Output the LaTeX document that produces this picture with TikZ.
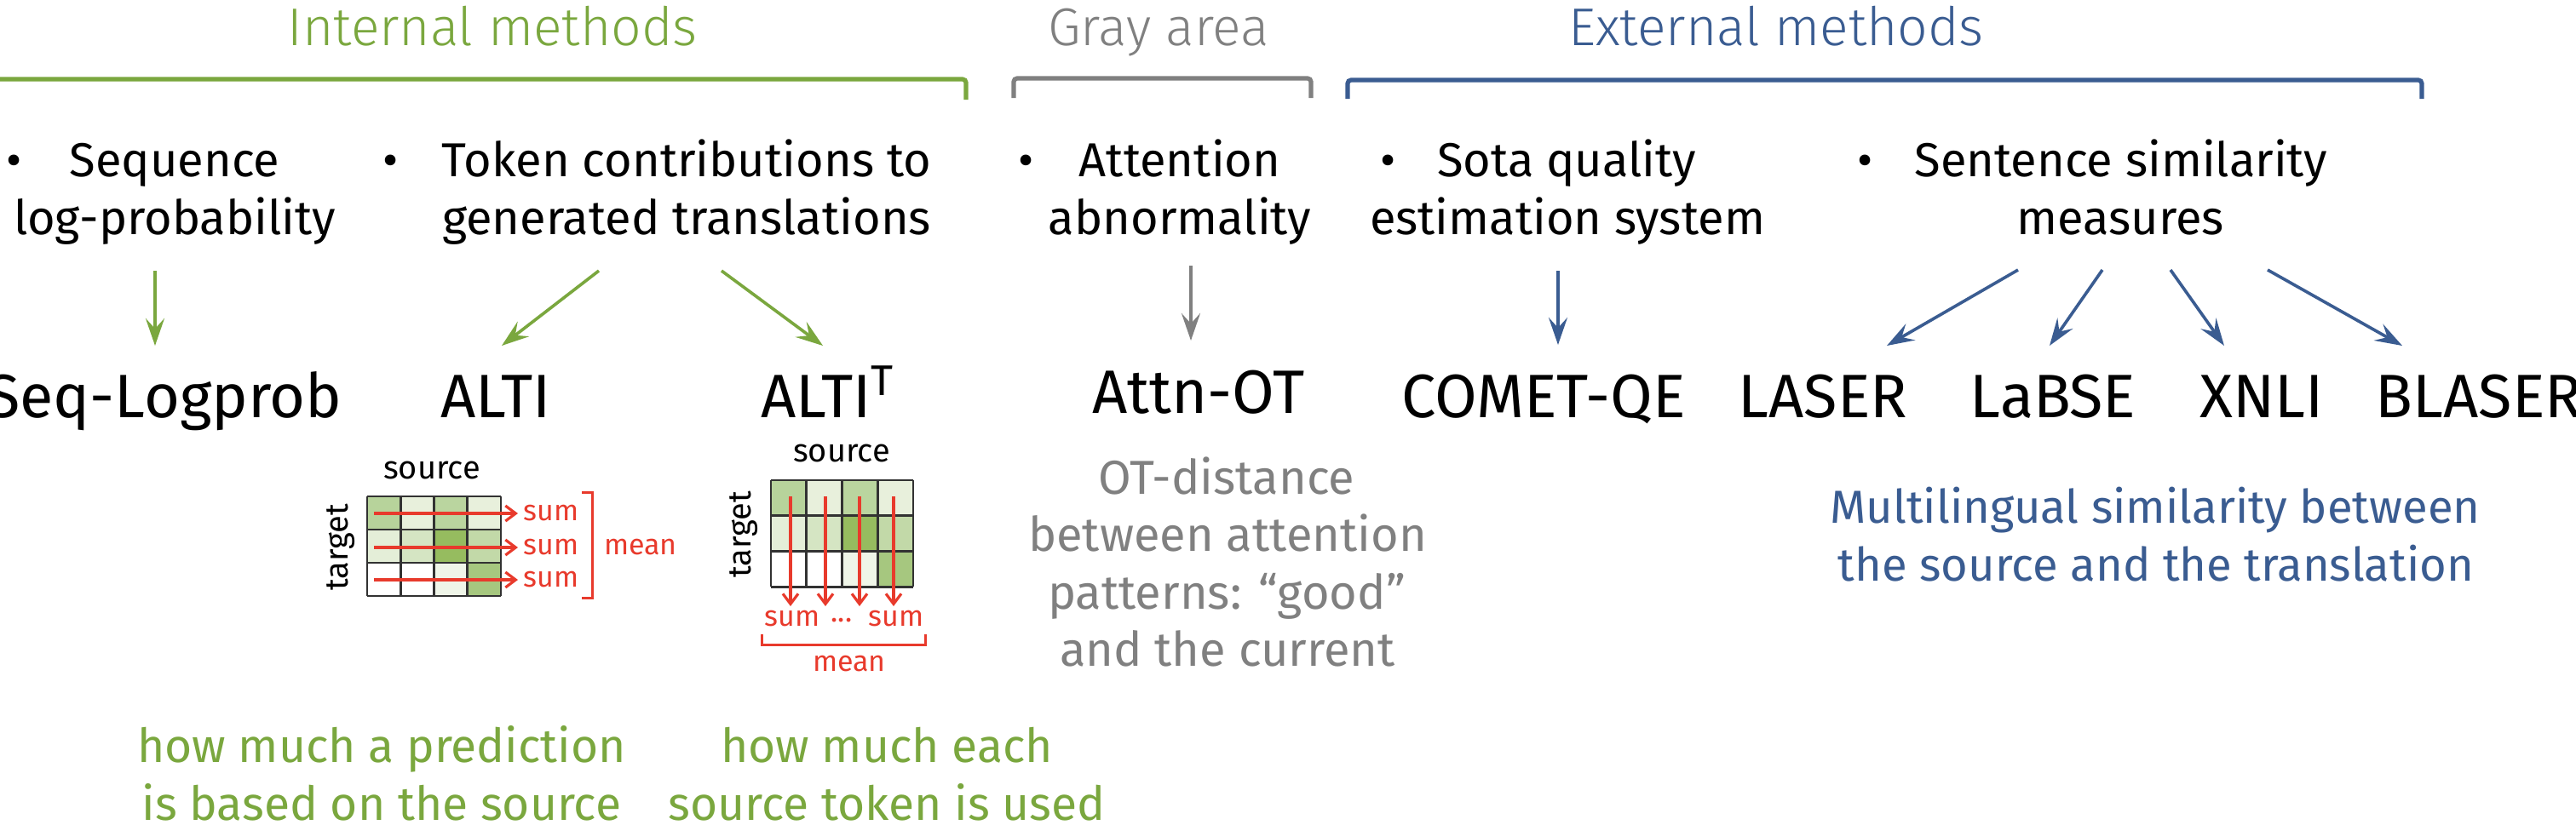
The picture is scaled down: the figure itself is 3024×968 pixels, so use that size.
\documentclass[tikz,border=0pt]{standalone}
\usepackage{fontspec}
\setmainfont{Fira Sans}
\newfontfamily\lightfont{Fira Sans Light}
\usetikzlibrary{arrows.meta}
\definecolor{igreen}{RGB}{122,167,62}
\definecolor{eblue}{RGB}{58,92,145}
\definecolor{ggray}{RGB}{128,128,128}
\definecolor{sred}{RGB}{232,58,44}
\definecolor{gridline}{RGB}{50,50,50}
\begin{document}
\begin{tikzpicture}[x=0.25pt,y=-0.25pt,
  every node/.style={inner sep=0pt, outer sep=0pt, anchor=base},
  head/.style={font=\lightfont\fontsize{15.6}{18}\selectfont},
  item/.style={font=\fontsize{14}{16}\selectfont},
  meth/.style={font=\fontsize{18}{20}\selectfont},
  grayn/.style={font=\fontsize{14}{16}\selectfont, text=ggray},
  bluen/.style={font=\fontsize{13.6}{16}\selectfont, text=eblue},
  greenn/.style={font=\fontsize{13.8}{16}\selectfont, text=igreen},
  small/.style={font=\fontsize{9.5}{11}\selectfont, anchor=center},
  redsmall/.style={font=\fontsize{8.5}{10}\selectfont, text=sred, anchor=center},
  brk/.style={line width=1.3pt, rounded corners=1pt},
  arr/.style={line width=0.9pt, -{Stealth[length=8pt,width=5.5pt,inset=3pt]}},
  sarr/.style={line width=0.8pt, draw=sred, -{Straight Barb[length=3pt,width=4.5pt]}},
  gridc/.style={draw=gridline, line width=0.7pt}
]
\useasboundingbox (0,0) rectangle (3024,968);

% headers
\node[head, text=igreen] (hint) at (578,53) {Internal methods};
\node[head, text=ggray] (hgray) at (1360,53) {Gray area};
\node[head, text=eblue] (hext) at (2085,53) {External methods};

% brackets
\draw[brk, draw=igreen] (-5,93) -- (1134,93) -- (1134,117);
\draw[brk, draw=ggray] (1190,115) -- (1190,92) -- (1539,92) -- (1539,115);
\draw[brk, draw=eblue] (1582,116) -- (1582,94) -- (2843,94) -- (2843,116);

% bullet items
\node[item] (b1) at (17,207) {•};
\node[item] (i1a) at (205,207) {Sequence};
\node[item] (i1b) at (205,275) {log-probability};
\node[item] (b2) at (459,207) {•};
\node[item] (i2a) at (806,207) {Token contributions to};
\node[item] (i2b) at (806,275) {generated translations};
\node[item] (b3) at (1205,207) {•};
\node[item] (i3a) at (1385,207) {Attention};
\node[item] (i3b) at (1385,275) {abnormality};
\node[item] (b4) at (1630,207) {•};
\node[item] (i4a) at (1839,207) {Sota quality};
\node[item] (i4b) at (1840,275) {estimation system};
\node[item] (b5) at (2190,207) {•};
\node[item] (i5a) at (2490,207) {Sentence similarity};
\node[item] (i5b) at (2489,275) {measures};

% method names
\node[meth] (seq) at (193,490) {Seq-Logprob};
\node[meth] (alti) at (582,490) {ALTI};
\node[meth] (altit) at (972,490) {ALTI\textsuperscript{T}};
\node[meth] (attn) at (1407,485) {Attn-OT};
\node[meth] (comet) at (1812,490) {COMET-QE};
\node[meth] (laser) at (2140,490) {LASER};
\node[meth] (labse) at (2410,490) {LaBSE};
\node[meth] (xnli) at (2655,490) {XNLI};
\node[meth] (blaser) at (2910,490) {BLASER};

% arrow coordinates
\coordinate (s1) at (182,318); \coordinate (e1) at (182,406);
\coordinate (s2) at (703,318); \coordinate (e2) at (589,406);
\coordinate (s3) at (847,318); \coordinate (e3) at (966,406);
\coordinate (s4) at (1398,312); \coordinate (e4) at (1398,400);
\coordinate (s5) at (1829,318); \coordinate (e5) at (1829,405);
\coordinate (s6) at (2369,317); \coordinate (e6) at (2215,406);
\coordinate (s7) at (2468,317); \coordinate (e7) at (2406,406);
\coordinate (s8) at (2548,317); \coordinate (e8) at (2611,406);
\coordinate (s9) at (2662,317); \coordinate (e9) at (2820,406);
\draw[arr, draw=igreen] (s1) -- (e1);
\draw[arr, draw=igreen] (s2) -- (e2);
\draw[arr, draw=igreen] (s3) -- (e3);
\draw[arr, draw=ggray] (s4) -- (e4);
\draw[arr, draw=eblue] (s5) -- (e5);
\draw[arr, draw=eblue] (s6) -- (e6);
\draw[arr, draw=eblue] (s7) -- (e7);
\draw[arr, draw=eblue] (s8) -- (e8);
\draw[arr, draw=eblue] (s9) -- (e9);

% cell colours (row-wise)
\def\cellcols{{"B7D39B","E8F0DC","BAD59F","E8F0DC","E4EED8","D5E5C3","96BC5F","C2D9A8","FFFFFF","FFFFFF","EFF5E8","A6C77F"}}

% grids
\foreach \r in {0,1,2}{
  \foreach \c in {0,1,2,3}{
    \pgfmathsetmacro{\idx}{int(\r*4+\c)}
    \pgfmathparse{\cellcols[\idx]}
    \definecolor{cc}{HTML}{\pgfmathresult}
    \fill[cc] (431+\c*39.25,583+\r*39) rectangle ++(39.25,39);
    \fill[cc] (905+\c*41.75,564+\r*41.7) rectangle ++(41.75,41.7);
  }
}
\foreach \c in {0,...,4}{
  \draw[gridc] (431+\c*39.25,583) -- (431+\c*39.25,700);
  \draw[gridc] (905+\c*41.75,564) -- (905+\c*41.75,689);
}
\foreach \r in {0,...,3}{
  \draw[gridc] (431,583+\r*39) -- (588,583+\r*39);
  \draw[gridc] (905,564+\r*41.7) -- (1072,564+\r*41.7);
}
\node[small] (srcA) at (507,552) {source};
\node[small, rotate=90] (tgtA) at (400,643) {target};
\node[small] (srcB) at (988,532) {source};
\node[small, rotate=90] (tgtB) at (873,628) {target};

% ALTI row sums
\foreach \y/\n in {603/1,643/2,681/3}{
  \coordinate (ra\n) at (439,\y);
  \coordinate (rb\n) at (608,\y);
  \draw[sarr] (ra\n) -- (rb\n);
  \node[redsmall] (sumA\n) at (647,\y) {sum};
}
\draw[draw=sred, line width=0.75pt] (683,578) -- (695,578) -- (695,702) -- (683,702);
\node[redsmall] (meanA) at (752,643) {mean};

% ALTI^T column sums
\foreach \x/\n in {928/1,969/2,1009/3,1049/4}{
  \coordinate (ca\n) at (\x,583);
  \coordinate (cb\n) at (\x,712);
  \draw[sarr] (ca\n) -- (cb\n);
}
\node[redsmall] (sumB1) at (930,727) {sum};
\node[redsmall] (dots) at (988,729) {...};
\node[redsmall] (sumB2) at (1052,727) {sum};
\draw[draw=sred, line width=0.75pt] (894,745) -- (894,757) -- (1086,757) -- (1086,745);
\node[redsmall] (meanB) at (997,780) {mean};

% gray description
\node[grayn] (ot1) at (1440,580) {OT-distance};
\node[grayn] (ot2) at (1441,647) {between attention};
\node[grayn] (ot3) at (1440,715) {patterns: “good”};
\node[grayn] (ot4) at (1441,782) {and the current};

% blue description
\node[bluen] (ml1) at (2530,614) {Multilingual similarity between};
\node[bluen] (ml2) at (2531,682) {the source and the translation};

% green descriptions
\node[greenn] (hw1) at (448,895) {how much a prediction};
\node[greenn] (hw2) at (448,963) {is based on the source};
\node[greenn] (hw3) at (1041,895) {how much each};
\node[greenn] (hw4) at (1041,963) {source token is used};
\end{tikzpicture}
\end{document}
